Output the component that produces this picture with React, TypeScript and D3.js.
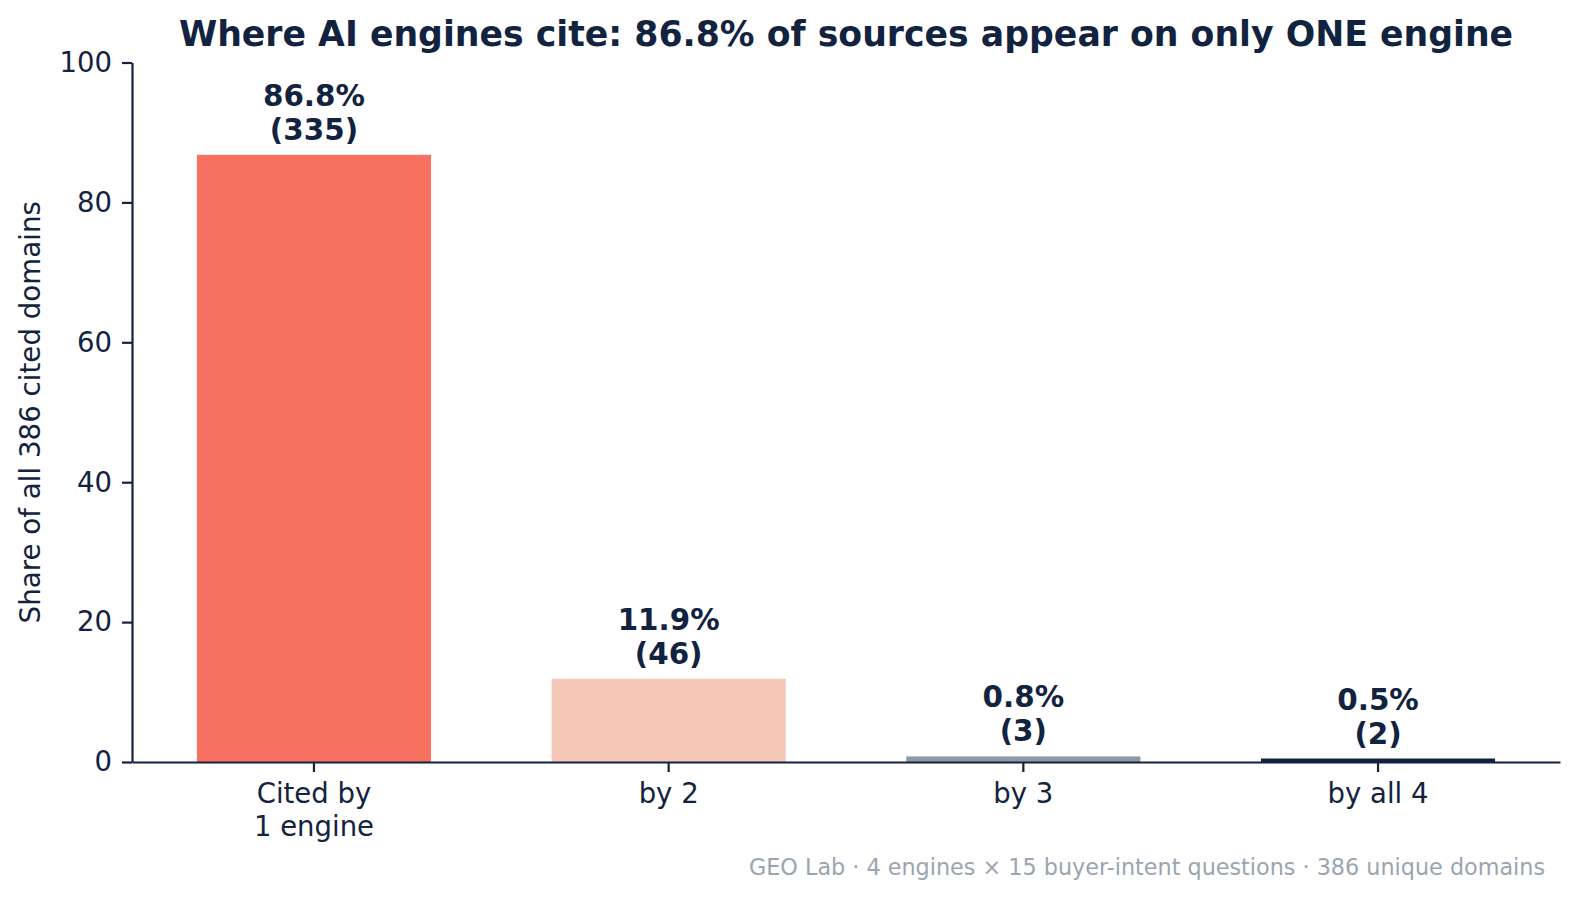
import React, { useRef, useEffect } from 'react';
import * as d3 from 'd3';

const categories = ['Cited by\n1 engine', 'by 2', 'by 3', 'by all 4'];
const shares = [86.8, 11.9, 0.8, 0.5];
const counts = [335, 46, 3, 2];
const barColors = ['#F87060', '#F4C7B6', '#8E9AA6', '#12233F'];
const yTicks = [0, 20, 40, 60, 80, 100];

const title = 'Where AI engines cite: 86.8% of sources appear on only ONE engine';
const yLabel = 'Share of all 386 cited domains';
const footnote = 'GEO Lab · 4 engines × 15 buyer-intent questions · 386 unique domains';

const W = 1580;
const H = 898;
const INK = '#12233F';
const FONT = 'DejaVu Sans, sans-serif';

const App = () => {
  const svgRef = useRef<SVGSVGElement | null>(null);

  useEffect(() => {
    const svg = d3.select(svgRef.current);
    svg.selectAll('*').remove();

    // plot area, matches the matplotlib axes box
    const left = 132;
    const right = 1560;
    const top = 62.5;
    const bottom = 762;

    const x = d3
      .scaleBand()
      .domain(categories)
      .range([left, right])
      .paddingInner(0.34)
      .paddingOuter(0.183);

    const y = d3.scaleLinear().domain([0, 100]).range([bottom, top]);

    // bars
    svg
      .append('g')
      .selectAll('rect')
      .data(categories)
      .enter()
      .append('rect')
      .attr('x', (d) => x(d)!)
      .attr('y', (d, i) => y(shares[i]))
      .attr('width', x.bandwidth())
      .attr('height', (d, i) => bottom - y(shares[i]))
      .attr('fill', (d, i) => barColors[i]);

    // value labels above bars
    const labels = svg
      .append('g')
      .selectAll('text')
      .data(categories)
      .enter()
      .append('text')
      .attr('text-anchor', 'middle')
      .attr('font-family', FONT)
      .attr('font-weight', 'bold')
      .attr('font-size', 29.4)
      .attr('fill', INK);
    labels
      .append('tspan')
      .attr('x', (d) => x(d)! + x.bandwidth() / 2)
      .attr('y', (d, i) => y(shares[i]) - 15 - 34)
      .text((d, i) => `${shares[i].toFixed(1)}%`);
    labels
      .append('tspan')
      .attr('x', (d) => x(d)! + x.bandwidth() / 2)
      .attr('y', (d, i) => y(shares[i]) - 15)
      .text((d, i) => `(${counts[i]})`);

    // y axis
    const yAxis = svg
      .append('g')
      .attr('transform', `translate(${left},0)`)
      .call(d3.axisLeft(y).tickValues(yTicks).tickSize(10).tickPadding(10).tickSizeOuter(0));
    yAxis.select('.domain').attr('stroke', INK).attr('stroke-width', 2.2);
    yAxis.selectAll('.tick line').attr('stroke', INK).attr('stroke-width', 2.2);
    yAxis
      .selectAll('.tick text')
      .attr('font-family', FONT)
      .attr('font-size', 27.5)
      .attr('fill', INK);

    // x axis, labels may span two lines
    const xAxis = svg
      .append('g')
      .attr('transform', `translate(0,${bottom})`)
      .call(d3.axisBottom(x).tickSize(10).tickPadding(11).tickSizeOuter(0));
    xAxis.select('.domain').attr('stroke', INK).attr('stroke-width', 2.2);
    xAxis.selectAll('.tick line').attr('stroke', INK).attr('stroke-width', 2.2);
    xAxis
      .selectAll<SVGTextElement, string>('.tick text')
      .attr('font-family', FONT)
      .attr('font-size', 27.5)
      .attr('fill', INK)
      .text(null)
      .each(function (d) {
        const t = d3.select(this);
        d.split('\n').forEach((line, i) => {
          t.append('tspan')
            .attr('x', 0)
            .attr('dy', i === 0 ? '0.73em' : '1.2em')
            .text(line);
        });
      });

    // y label
    svg
      .append('text')
      .attr('transform', `translate(40,${(top + bottom) / 2}) rotate(-90)`)
      .attr('text-anchor', 'middle')
      .attr('font-family', FONT)
      .attr('font-size', 27.7)
      .attr('fill', INK)
      .text(yLabel);

    // title
    svg
      .append('text')
      .attr('x', (left + right) / 2)
      .attr('y', 46)
      .attr('text-anchor', 'middle')
      .attr('font-family', FONT)
      .attr('font-weight', 'bold')
      .attr('font-size', 34.7)
      .attr('fill', INK)
      .text(title);

    // footnote
    svg
      .append('text')
      .attr('x', 1545)
      .attr('y', 875)
      .attr('text-anchor', 'end')
      .attr('font-family', FONT)
      .attr('font-size', 22.3)
      .attr('fill', '#9AA5B1')
      .text(footnote);
  }, []);

  return (
    <svg
      ref={svgRef}
      width={W}
      height={H}
      style={{ position: 'absolute', left: 0, top: 0, background: '#fff' }}
    ></svg>
  );
};

export default App;
